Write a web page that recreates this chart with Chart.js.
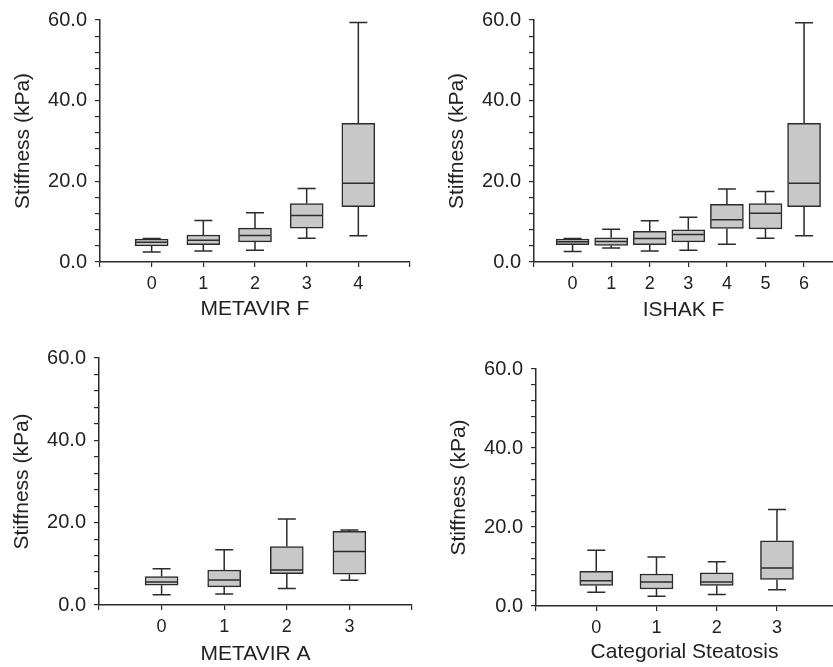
<!DOCTYPE html>
<html>
<head>
<meta charset="utf-8">
<script src="https://cdn.jsdelivr.net/npm/chart.js@4.4.0/dist/chart.umd.min.js"></script>
<style>
  html, body { margin: 0; padding: 0; background: #fff; }
  body { width: 833px; height: 667px; position: relative; overflow: hidden; }
  canvas { position: absolute; }
</style>
</head>
<body>
<canvas id="chartMetavirF" width="416" height="330" style="left:0;top:0"></canvas>
<canvas id="chartIshakF" width="417" height="330" style="left:416px;top:0"></canvas>
<canvas id="chartMetavirA" width="418" height="337" style="left:0;top:330px"></canvas>
<canvas id="chartSteatosis" width="417" height="337" style="left:416px;top:330px"></canvas>
<script>
// box plot values (kPa)
const yTitle = 'Stiffness (kPa)';

const metavirFCats = ['0', '1', '2', '3', '4'];
const metavirFMin = [2.5, 2.7, 2.9, 5.9, 6.5];
const metavirFQ1  = [4.0, 4.3, 5.0, 8.4, 13.7];
const metavirFMed = [4.9, 5.4, 6.6, 11.5, 19.5];
const metavirFQ3  = [5.7, 6.7, 8.4, 14.5, 34.4];
const metavirFMax = [5.8, 10.3, 12.2, 18.2, 59.4];

const ishakFCats = ['0', '1', '2', '3', '4', '5', '6'];
const ishakFMin = [2.6, 3.5, 2.7, 2.9, 4.4, 5.9, 6.5];
const ishakFQ1  = [4.3, 4.1, 4.3, 5.0, 8.3, 8.2, 13.7];
const ishakFMed = [5.0, 5.1, 5.8, 6.8, 10.5, 12.1, 19.5];
const ishakFQ3  = [5.7, 6.0, 7.6, 8.0, 14.3, 14.5, 34.4];
const ishakFMax = [5.8, 8.1, 10.2, 11.1, 18.1, 17.5, 59.3];

const metavirACats = ['0', '1', '2', '3'];
const metavirAMin = [2.5, 2.7, 4.0, 6.0];
const metavirAQ1  = [4.8, 4.4, 7.6, 7.5];
const metavirAMed = [5.6, 6.1, 8.5, 13.0];
const metavirAQ3  = [6.9, 8.5, 14.2, 17.9];
const metavirAMax = [8.8, 13.4, 20.9, 18.2];

const steatosisCats = ['0', '1', '2', '3'];
const steatosisMin = [3.5, 2.5, 2.9, 4.1];
const steatosisQ1  = [5.2, 4.3, 5.2, 6.7];
const steatosisMed = [6.4, 6.1, 6.1, 9.6];
const steatosisQ3  = [8.8, 8.1, 8.4, 16.5];
const steatosisMax = [14.1, 12.4, 11.2, 24.4];

const ink = '#2b2b2b';
const boxFill = '#c8c8c9';
const fontFamily = '"Liberation Sans", Arial, Helvetica, sans-serif';
const boxWidth = 33;
const capWidth = 18;

function makeBoxChart(id, cats, mins, q1s, meds, q3s, maxs, xTitle, geo) {
    const canvas = document.getElementById(id);
    const W = canvas.width, H = canvas.height;

    // whiskers and medians, drawn from the chart's own scales
    const whiskers = {
        id: 'whiskers_' + id,
        afterDatasetsDraw(chart) {
            const xs = chart.scales.x, ys = chart.scales.y, ctx = chart.ctx;
            ctx.save();
            ctx.strokeStyle = ink;
            ctx.lineWidth = 1.5;
            ctx.beginPath();
            cats.forEach((c, i) => {
                const x = xs.getPixelForValue(i);
                const yMin = ys.getPixelForValue(mins[i]);
                const yMax = ys.getPixelForValue(maxs[i]);
                const yQ1 = ys.getPixelForValue(q1s[i]);
                const yQ3 = ys.getPixelForValue(q3s[i]);
                const yMed = ys.getPixelForValue(meds[i]);
                ctx.moveTo(x, yQ3); ctx.lineTo(x, yMax);
                ctx.moveTo(x - capWidth / 2, yMax); ctx.lineTo(x + capWidth / 2, yMax);
                ctx.moveTo(x, yQ1); ctx.lineTo(x, yMin);
                ctx.moveTo(x - capWidth / 2, yMin); ctx.lineTo(x + capWidth / 2, yMin);
                ctx.moveTo(x - boxWidth / 2 + 1, yMed); ctx.lineTo(x + boxWidth / 2 - 1, yMed);
            });
            ctx.stroke();
            ctx.restore();
        }
    };

    return new Chart(canvas, {
        type: 'bar',
        data: {
            datasets: [{
                data: cats.map((c, i) => ({ x: i, y: [q1s[i], q3s[i]] })),
                backgroundColor: boxFill,
                borderColor: ink,
                borderWidth: 1.5,
                borderSkipped: false,
                barThickness: boxWidth
            }]
        },
        options: {
            responsive: false,
            animation: false,
            events: [],
            layout: { padding: { top: geo.top, right: W - geo.right, left: 0, bottom: 0 } },
            plugins: { legend: { display: false }, tooltip: { enabled: false } },
            scales: {
                x: {
                    type: 'linear',
                    min: -1,
                    max: geo.xMax,
                    offset: false,
                    afterFit: s => { s.height = H - geo.bottom; },
                    afterBuildTicks: s => {
                        const t = [-1];
                        cats.forEach((c, i) => t.push(i));
                        if (cats.length <= geo.xMax) t.push(cats.length);
                        s.ticks = t.map(v => ({ value: v }));
                    },
                    ticks: {
                        autoSkip: false,
                        maxRotation: 0,
                        padding: 6,
                        color: '#222',
                        font: { family: fontFamily, size: 18 },
                        callback: v => (v >= 0 && v < cats.length) ? cats[v] : ''
                    },
                    grid: { offset: false, drawOnChartArea: false, tickLength: 5, color: ink, lineWidth: 1.2 },
                    border: { color: ink, width: 1.5 },
                    title: {
                        display: true,
                        text: xTitle,
                        color: '#222',
                        font: { family: fontFamily, size: 21, lineHeight: 1 },
                        padding: { top: 0, bottom: H - geo.xTitleY - 10.5 }
                    }
                },
                y: {
                    min: 0,
                    max: 60,
                    afterFit: s => { s.width = geo.axisX; },
                    afterBuildTicks: s => {
                        const t = [];
                        for (let v = 0; v <= 60; v += 4) t.push({ value: v });
                        s.ticks = t;
                    },
                    ticks: {
                        autoSkip: false,
                        padding: 8,
                        color: '#222',
                        font: { family: fontFamily, size: 20 },
                        callback: v => v % 20 === 0 ? v.toFixed(1) : ''
                    },
                    grid: { drawOnChartArea: false, tickLength: 5, color: ink, lineWidth: 1.2 },
                    border: { color: ink, width: 1.5 },
                    title: {
                        display: true,
                        text: yTitle,
                        color: '#222',
                        font: { family: fontFamily, size: 21, lineHeight: 1 },
                        padding: { top: geo.axisX - 77 - 10.5, bottom: 0 }
                    }
                }
            }
        },
        plugins: [whiskers]
    });
}

makeBoxChart('chartMetavirF', metavirFCats, metavirFMin, metavirFQ1, metavirFMed, metavirFQ3, metavirFMax,
    'METAVIR F', { axisX: 100, top: 18, bottom: 262, right: 410, xMax: 5, xTitleY: 309.5 });
makeBoxChart('chartIshakF', ishakFCats, ishakFMin, ishakFQ1, ishakFMed, ishakFQ3, ishakFMax,
    'ISHAK F', { axisX: 118, top: 20, bottom: 262, right: 417, xMax: 6.75, xTitleY: 310 });
makeBoxChart('chartMetavirA', metavirACats, metavirAMin, metavirAQ1, metavirAMed, metavirAQ3, metavirAMax,
    'METAVIR A', { axisX: 99, top: 28, bottom: 275, right: 416, xMax: 4, xTitleY: 324.5 });
makeBoxChart('chartSteatosis', steatosisCats, steatosisMin, steatosisQ1, steatosisMed, steatosisQ3, steatosisMax,
    'Categorial Steatosis', { axisX: 120, top: 39, bottom: 276, right: 417, xMax: 3.93, xTitleY: 322 });
</script>
</body>
</html>
